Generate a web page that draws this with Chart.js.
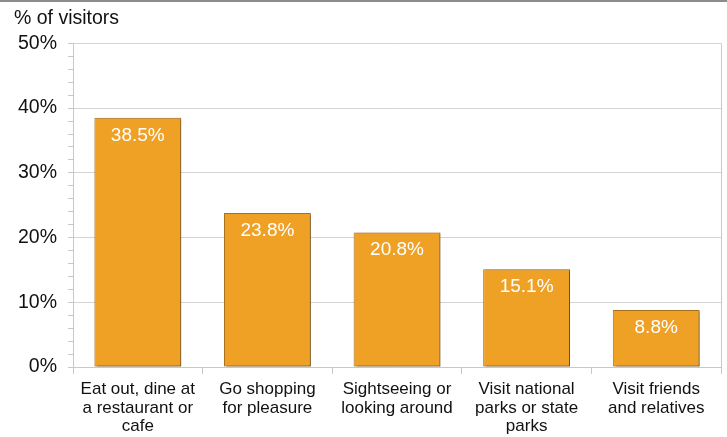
<!DOCTYPE html>
<html>
<head>
    <title>Activities of visitors</title>
    <script src="https://cdn.jsdelivr.net/npm/chart.js"></script>
    <style>
        body { margin: 0; background: #fff; }
        .chart-container { width: 727px; height: 437px; }
    </style>
</head>
<body>
    <div class="chart-container">
        <canvas id="activityChart"></canvas>
    </div>
    <script>
        // data
        const activities = [
            ['Eat out, dine at', 'a restaurant or', 'cafe'],
            ['Go shopping', 'for pleasure'],
            ['Sightseeing or', 'looking around'],
            ['Visit national', 'parks or state', 'parks'],
            ['Visit friends', 'and relatives']
        ];
        const visitorShare = [38.5, 23.8, 20.8, 15.1, 8.8];
        const yMax = 50;

        const fontFamily = "'Liberation Sans', Arial, sans-serif";
        const lineGrey = '#c8c8c8';

        // grey rule across the top of the page + right edge of the plot
        const frame = {
            id: 'frame',
            beforeDraw(chart) {
                const ctx = chart.ctx;
                ctx.save();
                ctx.fillStyle = '#8c8c8c';
                ctx.fillRect(0, 0, chart.width, 2);
                ctx.restore();
            },
            afterDraw(chart) {
                const a = chart.chartArea;
                const ctx = chart.ctx;
                ctx.save();
                ctx.strokeStyle = lineGrey;
                ctx.lineWidth = 1;
                ctx.beginPath();
                ctx.moveTo(Math.round(a.right) + 0.5, a.top);
                ctx.lineTo(Math.round(a.right) + 0.5, a.bottom);
                ctx.stroke();
                ctx.restore();
            }
        };

        // soft shadow on the bars
        const barShadow = {
            id: 'barShadow',
            beforeDatasetsDraw(chart) {
                const ctx = chart.ctx;
                ctx.save();
                ctx.shadowColor = 'rgba(60, 35, 0, 0.5)';
                ctx.shadowBlur = 2;
                ctx.shadowOffsetX = 2;
                ctx.shadowOffsetY = 1;
            },
            afterDatasetsDraw(chart) {
                chart.ctx.restore();
            }
        };

        // value labels inside the top of each bar
        const valueLabels = {
            id: 'valueLabels',
            afterDatasetsDraw(chart) {
                const ctx = chart.ctx;
                const meta = chart.getDatasetMeta(0);
                ctx.save();
                ctx.fillStyle = '#ffffff';
                ctx.font = '19px ' + fontFamily;
                ctx.textAlign = 'center';
                ctx.textBaseline = 'top';
                meta.data.forEach((bar, i) => {
                    ctx.fillText(visitorShare[i].toFixed(1) + '%', bar.x, bar.y + 8);
                });
                ctx.restore();
            }
        };

        const ctx = document.getElementById('activityChart').getContext('2d');
        new Chart(ctx, {
            type: 'bar',
            data: {
                labels: activities,
                datasets: [{
                    data: visitorShare,
                    backgroundColor: '#EEA125',
                    borderColor: '#A8721E',
                    borderWidth: 1,
                    borderSkipped: false,
                    barPercentage: 0.67,
                    categoryPercentage: 1
                }]
            },
            options: {
                responsive: true,
                maintainAspectRatio: false,
                animation: false,
                layout: { padding: { left: 14, right: 6, bottom: 0, top: 0 } },
                plugins: {
                    legend: { display: false },
                    tooltip: { enabled: false },
                    title: {
                        display: true,
                        text: '% of visitors',
                        align: 'start',
                        color: '#111',
                        font: { family: fontFamily, size: 19.5, weight: 'normal' },
                        padding: { top: 7, bottom: 13 }
                    }
                },
                scales: {
                    x: {
                        afterFit: scale => { scale.height = 70; },
                        grid: {
                            drawOnChartArea: false,
                            tickLength: 7,
                            color: lineGrey
                        },
                        border: { color: lineGrey },
                        ticks: {
                            color: '#111',
                            padding: 6,
                            maxRotation: 0,
                            font: { family: fontFamily, size: 17, lineHeight: 1.1 }
                        }
                    },
                    y: {
                        min: 0,
                        max: yMax,
                        afterFit: scale => { scale.width = 59; },
                        grid: {
                            tickLength: 5,
                            color: c => (c.tick && c.tick.value % 10 === 0 && c.tick.value > 0) ? '#d4d4d4' : 'rgba(0,0,0,0)',
                            tickColor: lineGrey
                        },
                        border: { color: lineGrey },
                        ticks: {
                            stepSize: 2,
                            autoSkip: false,
                            padding: 11,
                            color: '#111',
                            font: { family: fontFamily, size: 19.5 },
                            callback: v => v % 10 === 0 ? v + '%' : ''
                        }
                    }
                }
            },
            plugins: [frame, barShadow, valueLabels]
        });
    </script>
</body>
</html>
